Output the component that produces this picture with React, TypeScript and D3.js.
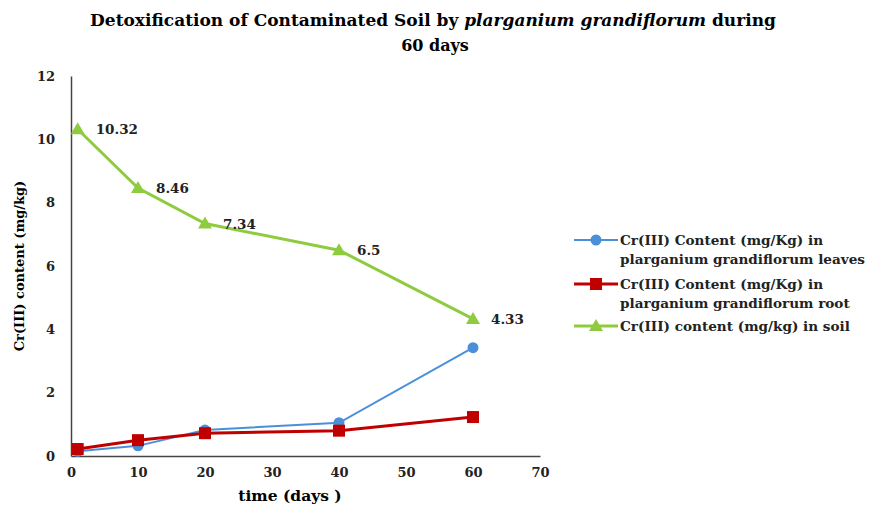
import React, { useEffect, useRef } from "react";
import { axisBottom, axisLeft, line, scaleLinear, select } from "d3";

const days = [1, 10, 20, 40, 60];
const leaves = [0.15, 0.32, 0.82, 1.05, 3.42];
const root = [0.22, 0.5, 0.72, 0.8, 1.23];
const soil = [10.32, 8.46, 7.34, 6.5, 4.33];
const soilLabels = ["10.32", "8.46", "7.34", "6.5", "4.33"];
const xTicks = [0, 10, 20, 30, 40, 50, 60, 70];
const yTicks = [0, 2, 4, 6, 8, 10, 12];

const legendNames = [
    ["Cr(III) Content (mg/Kg) in", "plarganium grandiflorum leaves"],
    ["Cr(III) Content (mg/Kg) in", "plarganium grandiflorum root"],
    ["Cr(III) content (mg/kg)  in soil"],
];

const FONT = "'DejaVu Serif', serif";

const App: React.FC = () => {
    const svgRef = useRef<SVGSVGElement>(null);

    useEffect(() => {
        const width = 871,
            height = 508;
        const margin = { left: 71, right: 331, top: 76, bottom: 52 };

        const x = scaleLinear().domain([0, 70]).range([margin.left, width - margin.right]);
        const y = scaleLinear().domain([0, 12]).range([height - margin.bottom, margin.top]);

        const svg = select(svgRef.current);
        svg.selectAll("*").remove();
        svg.attr("width", width).attr("height", height);
        svg.append("rect").attr("width", width).attr("height", height).attr("fill", "#fff");

        // title
        const title = svg
            .append("text")
            .attr("text-anchor", "middle")
            .attr("font-family", FONT)
            .attr("font-weight", "bold")
            .attr("font-size", 17);
        const t1 = title.append("tspan").attr("x", 433).attr("y", 26);
        t1.append("tspan").text("Detoxification of Contaminated Soil by ");
        t1.append("tspan").attr("font-style", "italic").text("plarganium grandiflorum");
        t1.append("tspan").text(" during");
        title.append("tspan").attr("x", 435).attr("y", 51).attr("font-size", 16).text("60 days");

        const tickStyle = (g: any) =>
            g.selectAll(".tick text")
                .attr("font-family", FONT)
                .attr("font-weight", "bold")
                .attr("font-size", 13)
                .attr("fill", "#222");

        // axes
        svg.append("g")
            .attr("transform", `translate(0,${y(0)})`)
            .call(axisBottom(x).tickValues(xTicks).tickSize(0).tickPadding(12))
            .call(g => g.select(".domain").attr("stroke", "#444").attr("stroke-width", 1.5))
            .call(tickStyle);

        svg.append("g")
            .attr("transform", `translate(${x(0)},0)`)
            .call(axisLeft(y).tickValues(yTicks).tickSize(0).tickPadding(16))
            .call(g => g.select(".domain").attr("stroke", "#444").attr("stroke-width", 1.5))
            .call(tickStyle);

        svg.append("text")
            .attr("x", 290)
            .attr("y", 501)
            .attr("text-anchor", "middle")
            .attr("font-family", FONT)
            .attr("font-weight", "bold")
            .attr("font-size", 15.5)
            .text("time (days )");

        svg.append("text")
            .attr("transform", `translate(24,266) rotate(-90)`)
            .attr("text-anchor", "middle")
            .attr("font-family", FONT)
            .attr("font-weight", "bold")
            .attr("font-size", 13)
            .text("Cr(III) content (mg/kg)");

        const series = [
            { values: leaves, color: "#4a90d9", width: 2, marker: "circle" },
            { values: root, color: "#c00000", width: 3, marker: "square" },
            { values: soil, color: "#8fcb3f", width: 3, marker: "triangle" },
        ];

        const lineGen = line<number>()
            .x((_, i) => x(days[i]))
            .y(d => y(d));

        const drawMarker = (g: any, kind: string, cx: number, cy: number, color: string) => {
            if (kind === "circle") {
                g.append("circle").attr("cx", cx).attr("cy", cy).attr("r", 5.5).attr("fill", color);
            } else if (kind === "square") {
                g.append("rect")
                    .attr("x", cx - 6)
                    .attr("y", cy - 6)
                    .attr("width", 12)
                    .attr("height", 12)
                    .attr("fill", color);
            } else {
                g.append("path")
                    .attr("d", `M${cx},${cy - 7}L${cx + 7},${cy + 5}L${cx - 7},${cy + 5}Z`)
                    .attr("fill", color);
            }
        };

        series.forEach(s => {
            svg.append("path")
                .datum(s.values)
                .attr("fill", "none")
                .attr("stroke", s.color)
                .attr("stroke-width", s.width)
                .attr("d", lineGen as any);
            const g = svg.append("g");
            s.values.forEach((v, i) => drawMarker(g, s.marker, x(days[i]), y(v), s.color));
        });

        // data labels on soil
        svg.append("g")
            .selectAll("text")
            .data(soil)
            .enter()
            .append("text")
            .attr("x", (_, i) => x(days[i]) + 18)
            .attr("y", d => y(d) + 5)
            .attr("font-family", FONT)
            .attr("font-weight", "bold")
            .attr("font-size", 13.5)
            .attr("fill", "#222")
            .text((_, i) => soilLabels[i]);

        // legend
        const legendY = [240, 284, 326];
        series.forEach((s, i) => {
            const g = svg.append("g");
            g.append("line")
                .attr("x1", 574)
                .attr("x2", 618)
                .attr("y1", legendY[i])
                .attr("y2", legendY[i])
                .attr("stroke", s.color)
                .attr("stroke-width", s.width);
            drawMarker(g, s.marker, 596, legendY[i], s.color);
            const txt = g
                .append("text")
                .attr("font-family", FONT)
                .attr("font-weight", "bold")
                .attr("font-size", 13.6)
                .attr("fill", "#222");
            legendNames[i].forEach((n, j) => {
                txt.append("tspan")
                    .attr("x", 620)
                    .attr("y", legendY[i] + 5 + j * 19)
                    .text(n);
            });
        });
    }, []);

    return <svg ref={svgRef} style={{ position: "absolute", left: 0, top: 0 }}></svg>;
};

export default App;
